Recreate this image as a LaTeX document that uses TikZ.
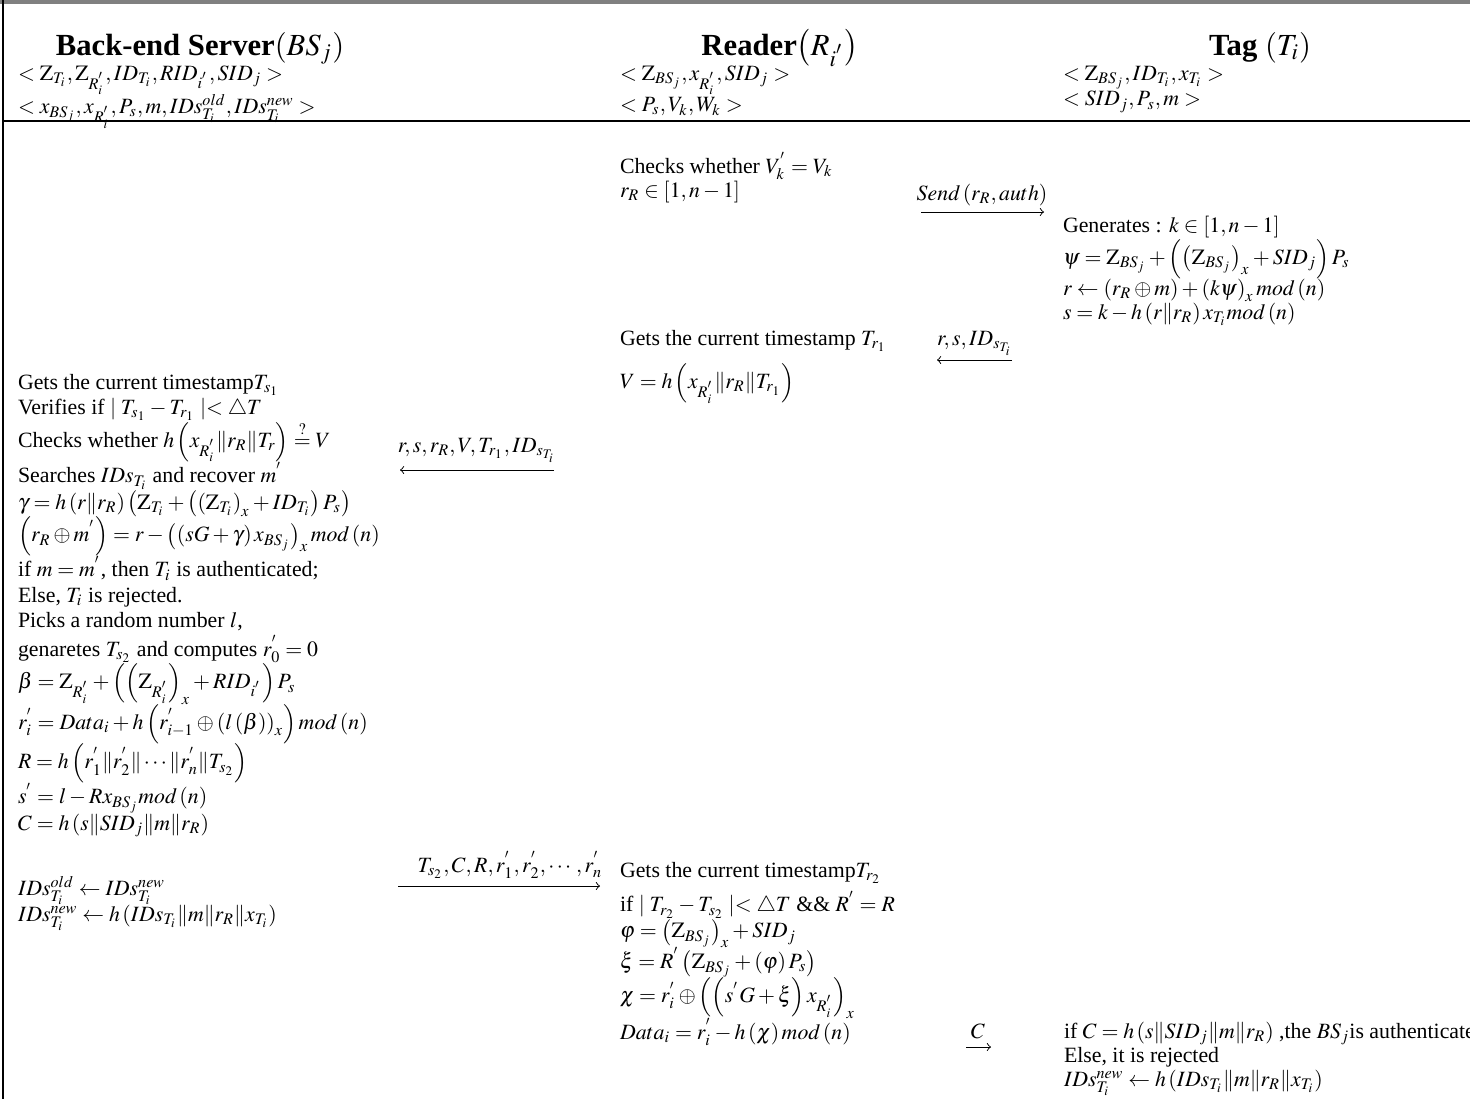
\documentclass[tikz,border=0pt]{standalone}
\usepackage{amsmath}
\usepackage{mathptmx}
\usepackage{fontspec}
\setmainfont{Liberation Serif}
\renewcommand{\arraystretch}{0.92}
\newcommand{\steplines}[1]{\begin{tabular}[t]{@{}l@{}}#1\end{tabular}}
\newcommand{\Zr}{\mathrm{Z}}

\begin{document}
\begin{tikzpicture}[>=to, x=0.44pt, y=-0.44pt]
\tikzstyle{every node}=[inner sep=0pt, outer sep=0pt, font=\fontsize{9.6}{11.5}\selectfont]
\tikzstyle{head}=[anchor=base, font=\fontsize{13.5}{16}\selectfont\bfseries]
\tikzstyle{col}=[anchor=base west]
\tikzstyle{msg}=[anchor=base]
\useasboundingbox (0,0) rectangle (1470,1099);
% frame
\draw[gray, line width=1.5pt] (0,2) -- (1470,2);
\draw[line width=0.7pt] (3,0) -- (3,1099);
\draw[line width=0.6pt] (3,121) -- (1470,121);
% headers
\node[head](hbs) at (200,55) {Back-end Server$\left(BS_{j}\right)$};
\node[head](hrd) at (780,55) {Reader$\left(R_{i^{'}}\right)$};
\node[head](htg) at (1260,55) {Tag $\left(T_{i}\right)$};
\node[col](kbs) at (18,80) {\steplines{$<\Zr_{T_{i}},\Zr_{R_{i}^{'}},ID_{T_{i}},RID_{i^{'}},SID_{j}>$\\
$<x_{BS_{j}},x_{R_{i}^{'}},P_{s},m,IDs_{T_{i}}^{old},IDs_{T_{i}}^{new}>$}};
\node[col](krd) at (620,80) {\steplines{$<\Zr_{BS_{j}},x_{R_{i}^{'}},SID_{j}>$\\
$<P_{s},V_{k},W_{k}>$}};
\node[col](ktg) at (1063,80) {\steplines{$<\Zr_{BS_{j}},ID_{T_{i}},x_{T_{i}}>$\\
$<SID_{j},P_{s},m>$}};
% reader, step 1
\node[col](rd1) at (620,173) {\steplines{Checks whether $V_{k}^{'}=V_{k}$\\
$r_{R}\in\left[1,n-1\right]$}};
\coordinate (a1s) at (921,212);
\coordinate (a1e) at (1044,212);
\node[msg](m1) at (982,200) {$Send\left(r_{R},auth\right)$};
\draw[->] (a1s) -- (a1e);
% tag
\node[col](tg1) at (1063,232) {\steplines{Generates : $k\in\left[1,n-1\right]$\\
$\psi=\Zr_{BS_{j}}+\left(\left(\Zr_{BS_{j}}\right)_{x}+SID_{j}\right)P_{s}$\\
$r\leftarrow\left(r_{R}\oplus m\right)+\left(k\psi\right)_{x}mod\left(n\right)$\\
$s=k-h\left(r\|r_{R}\right)x_{T_{i}}mod\left(n\right)$}};
\coordinate (a2s) at (1012,360);
\coordinate (a2e) at (937,360);
\node[msg](m2) at (975,345) {$r,s,ID_{s_{T_{i}}}$};
\draw[->] (a2s) -- (a2e);
% reader, step 2
\node[col](rd2) at (620,345) {\steplines{Gets the current timestamp $T_{r_{1}}$\\[5pt]
$V=h\left(x_{R_{i}^{'}}\|r_{R}\|T_{r_{1}}\right)$}};
\coordinate (a3s) at (554,470);
\coordinate (a3e) at (400,470);
\node[msg](m3) at (477,452) {$r,s,r_{R},V,T_{r_{1}},ID_{s_{T_{i}}}$};
\draw[->] (a3s) -- (a3e);
% server
\node[col](bs1) at (18,389) {\renewcommand{\arraystretch}{0.97}\steplines{Gets the current timestamp$T_{s_{1}}$\\
Verifies if $\mid T_{s_{1}}-T_{r_{1}}\mid<\triangle T$\\
Checks whether $h\left(x_{R_{i}^{'}}\|r_{R}\|T_{r}\right)\overset{?}{=}V$\\
Searches $IDs_{T_{i}}$ and recover $m^{'}$\\
$\gamma=h\left(r\|r_{R}\right)\left(\Zr_{T_{i}}+\left(\left(\Zr_{T_{i}}\right)_{x}+ID_{T_{i}}\right)P_{s}\right)$\\
$\left(r_{R}\oplus m^{'}\right)=r-\left(\left(sG+\gamma\right)x_{BS_{j}}\right)_{x}mod\left(n\right)$\\
if $m=m^{'}$, then $T_{i}$ is authenticated;\\
Else, $T_{i}$ is rejected.\\
Picks a random number $l$,\\
genaretes $T_{s_{2}}$ and computes $r_{0}^{'}=0$\\
$\beta=\Zr_{R_{i}^{'}}+\left(\left(\Zr_{R_{i}^{'}}\right)_{x}+RID_{i^{'}}\right)P_{s}$\\
$r_{i}^{'}=Data_{i}+h\left(r_{i-1}^{'}\oplus\left(l\left(\beta\right)\right)_{x}\right)mod\left(n\right)$\\
$R=h\left(r_{1}^{'}\|r_{2}^{'}\|\cdots\|r_{n}^{'}\|T_{s_{2}}\right)$\\
$s^{'}=l-Rx_{BS_{j}}mod\left(n\right)$\\
$C=h\left(s\|SID_{j}\|m\|r_{R}\right)$}};
\node[col](bs2) at (18,895) {\steplines{$IDs_{T_{i}}^{old}\leftarrow IDs_{T_{i}}^{new}$\\
$IDs_{T_{i}}^{new}\leftarrow h\left(IDs_{T_{i}}\|m\|r_{R}\|x_{T_{i}}\right)$}};
\coordinate (a4s) at (398,886);
\coordinate (a4e) at (600,886);
\node[msg](m4) at (510,872) {$T_{s_{2}},C,R,r_{1}^{'},r_{2}^{'},\cdots,r_{n}^{'}$};
\draw[->] (a4s) -- (a4e);
% reader, step 3
\node[col](rd3) at (620,877) {\steplines{Gets the current timestamp$T_{r_{2}}$\\[3pt]
if $\mid T_{r_{2}}-T_{s_{2}}\mid<\triangle T$ \&\& $R^{'}=R$\\
$\varphi=\left(\Zr_{BS_{j}}\right)_{x}+SID_{j}$\\
$\xi=R^{'}\left(\Zr_{BS_{j}}+\left(\varphi\right)P_{s}\right)$\\
$\chi=r_{i}^{'}\oplus\left(\left(s^{'}G+\xi\right)x_{R_{i}^{'}}\right)_{x}$\\
$Data_{i}=r_{i}^{'}-h\left(\chi\right)mod\left(n\right)$}};
\coordinate (a5s) at (966,1047);
\coordinate (a5e) at (991,1047);
\node[msg](m5) at (978,1038) {$C$};
\draw[->] (a5s) -- (a5e);
% tag, last step
\node[col](tg3) at (1064,1038) {\steplines{if $C=h\left(s\|SID_{j}\|m\|r_{R}\right)$ ,the $BS_{j}$is authenticate\\
Else, it is rejected\\
$IDs_{T_{i}}^{new}\leftarrow h\left(IDs_{T_{i}}\|m\|r_{R}\|x_{T_{i}}\right)$}};
\end{tikzpicture}
\end{document}
